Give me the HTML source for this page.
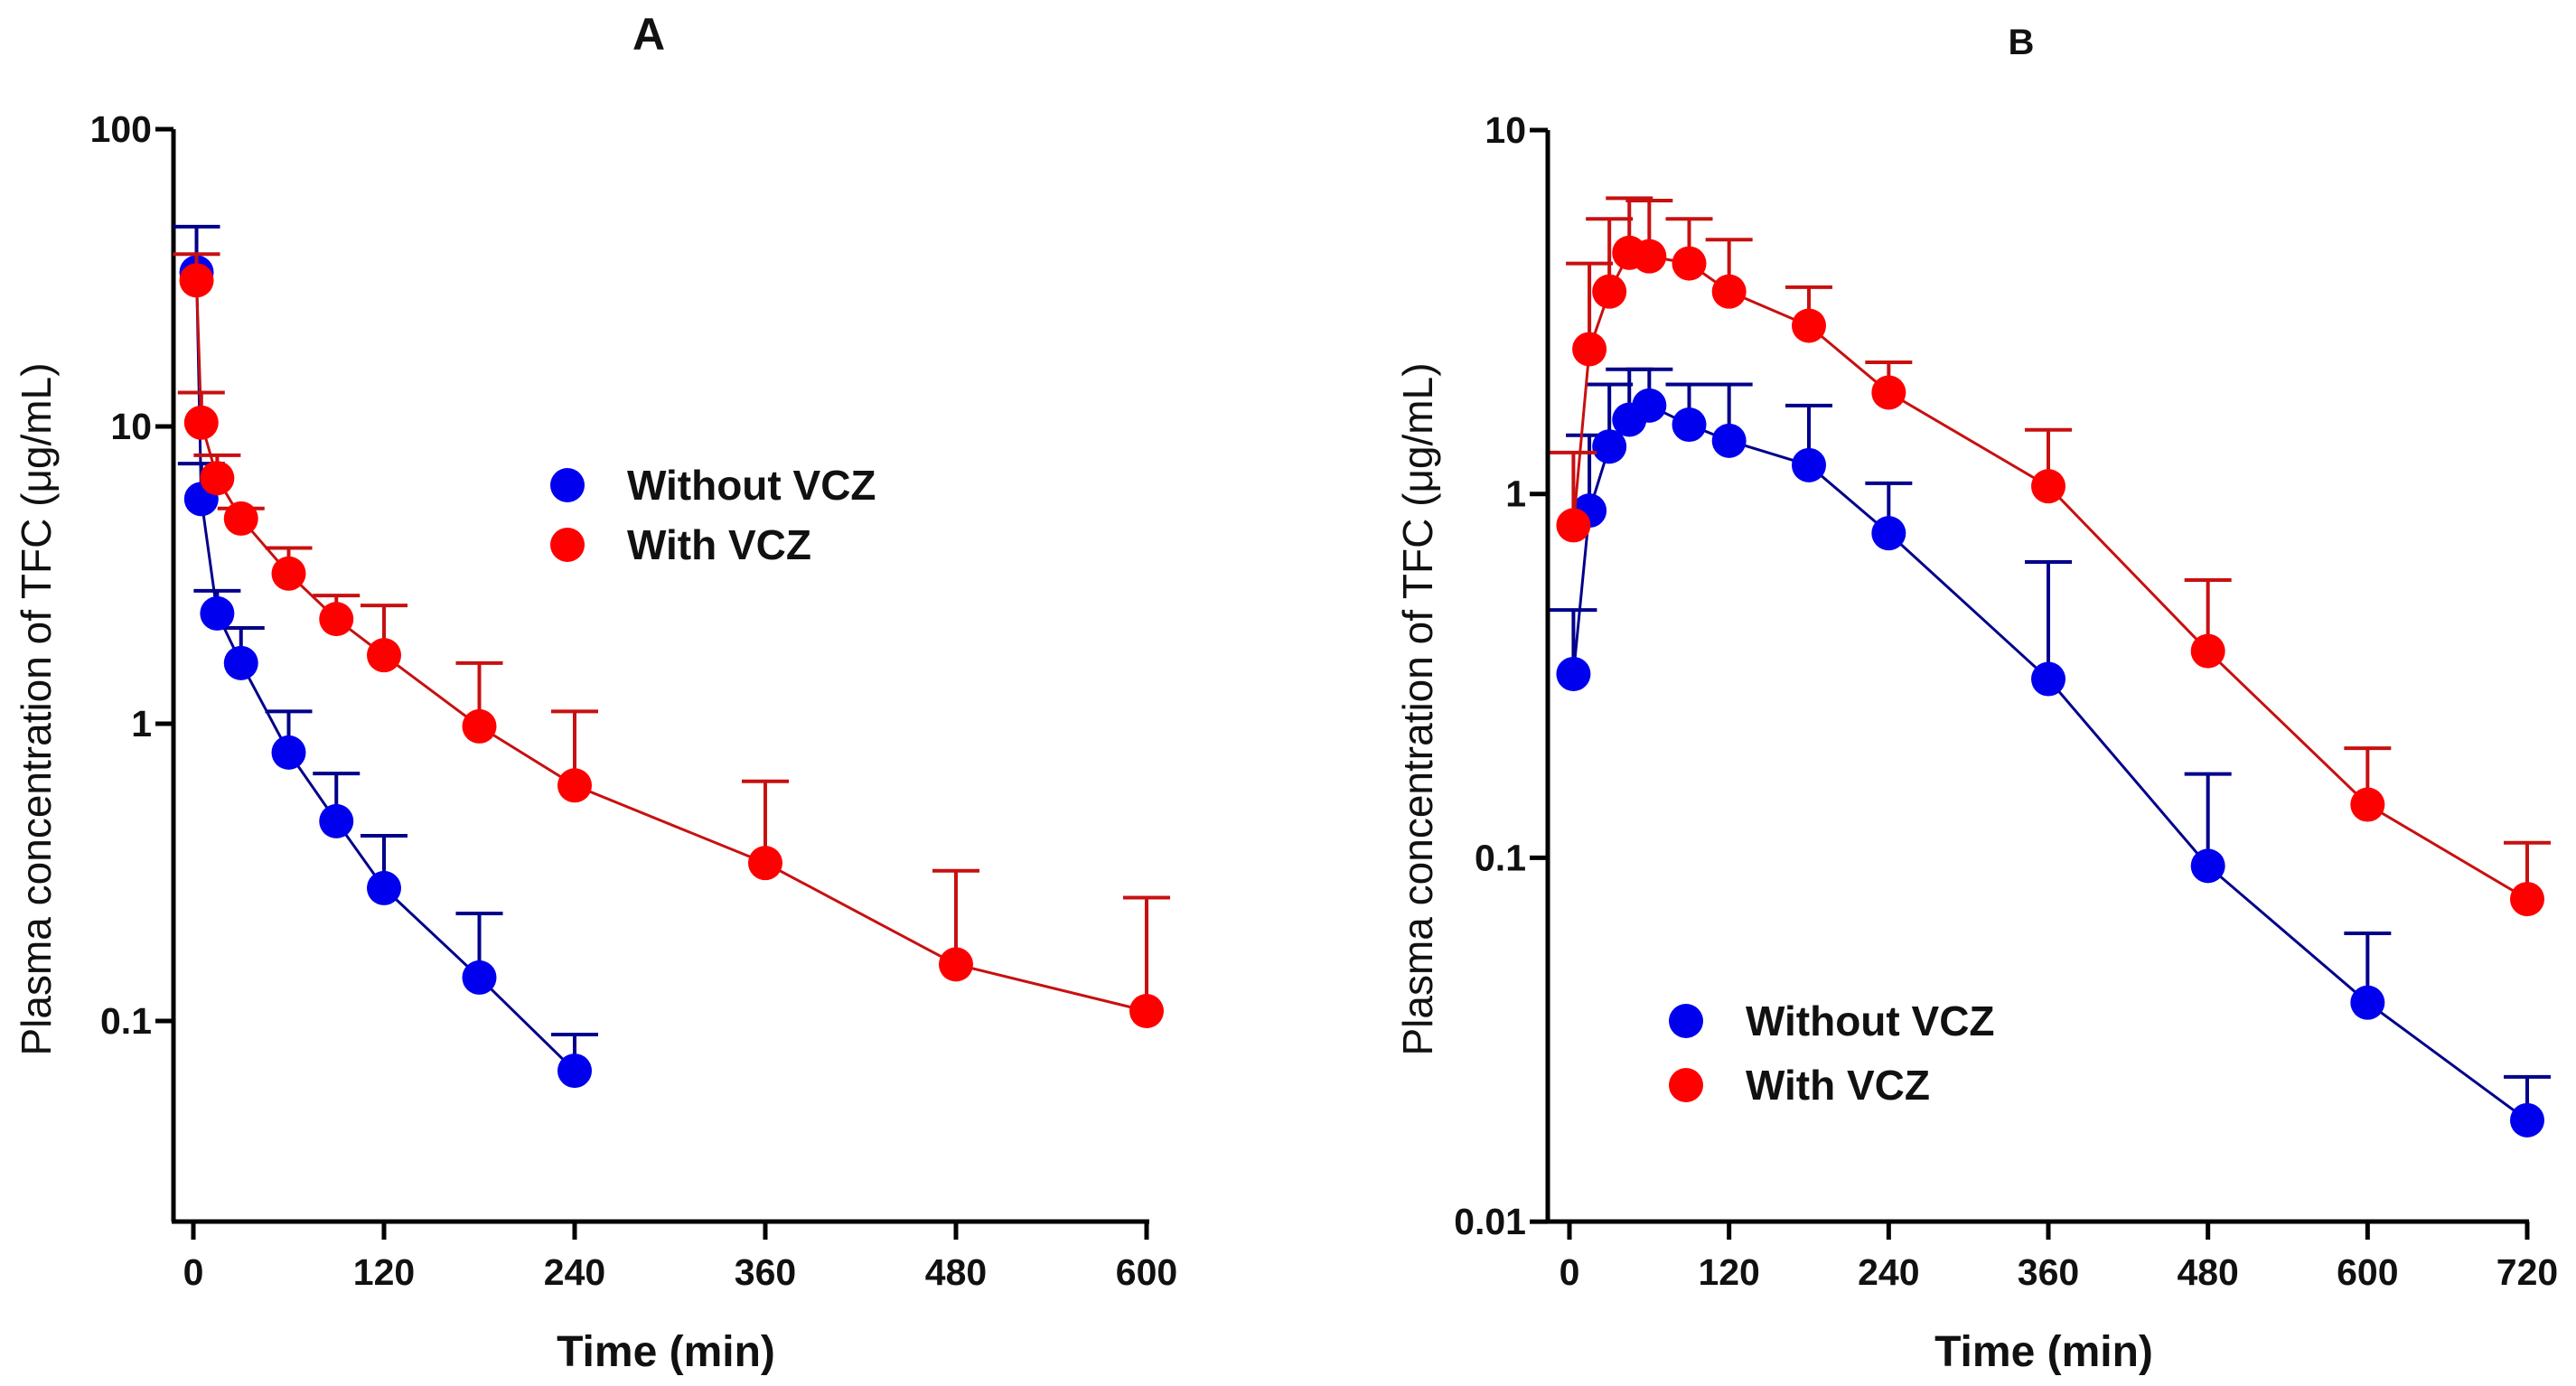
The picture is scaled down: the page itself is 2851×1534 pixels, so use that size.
<!DOCTYPE html>
<html><head><meta charset="utf-8"><style>
html,body{margin:0;padding:0;background:#fff;}
svg{display:block;font-family:"Liberation Sans",Arial,sans-serif;}
</style></head><body>
<svg id="chart" width="2851" height="1534" viewBox="0 0 2851 1534" xmlns="http://www.w3.org/2000/svg">
<rect width="2851" height="1534" fill="#fff"/>
</svg>
<script>
// Panel A data
const timesA = [2,5,15,30,60,90,120,180,240];
const blueA = [33,5.7,2.35,1.6,0.8,0.47,0.28,0.14,0.068];
const blueAErr = [47,7.5,2.8,2.1,1.1,0.68,0.42,0.23,0.09];
const timesARed = [2,5,15,30,60,90,120,180,240,360,480,600];
const redA = [31,10.3,6.7,4.9,3.2,2.25,1.7,0.98,0.62,0.34,0.155,0.108];
const redAErr = [38,13,8,5.3,3.9,2.7,2.5,1.6,1.1,0.64,0.32,0.26];
const xTicksA = [0,120,240,360,480,600];
const yTicksA = [100,10,1,0.1];
const yTickLabelsA = ["100","10","1","0.1"];
// Panel B data
const timesB = [3,15,30,45,60,90,120,180,240,360,480,600,720];
const blueB = [0.32,0.9,1.35,1.6,1.75,1.55,1.4,1.2,0.78,0.31,0.095,0.04,0.019];
const blueBErr = [0.48,1.45,2.0,2.2,2.2,2.0,2.0,1.75,1.07,0.65,0.17,0.062,0.025];
const redB = [0.82,2.5,3.6,4.6,4.5,4.3,3.6,2.9,1.9,1.05,0.37,0.14,0.077];
const redBErr = [1.3,4.3,5.7,6.5,6.4,5.7,5.0,3.7,2.3,1.5,0.58,0.2,0.11];
const xTicksB = [0,120,240,360,480,600,720];
const yTicksB = [10,1,0.1,0.01];
const yTickLabelsB = ["10","1","0.1","0.01"];

const NS="http://www.w3.org/2000/svg";
const svg=document.getElementById('chart');
function mk(tag,attrs,parent){const e=document.createElementNS(NS,tag);for(const k in attrs)e.setAttribute(k,attrs[k]);(parent||svg).appendChild(e);return e;}

function panel(cfg){
  const g=mk('g',{});
  
  
  const sx=t=>cfg.x0+t*cfg.xPer;
  const sy=v=>cfg.yTop+(Math.log10(cfg.yTopVal)-Math.log10(v))*cfg.dec;
  const ya=mk('line',{x1:cfg.axX,y1:cfg.yTop,x2:cfg.axX,y2:cfg.axY,stroke:'#000','stroke-width':5},g);
  
  
  const xa=mk('line',{x1:cfg.axX-2,y1:cfg.axY,x2:cfg.xEnd+2,y2:cfg.axY,stroke:'#000','stroke-width':5},g);
  
  
  cfg.xTicks.forEach(t=>{
    mk('line',{x1:sx(t),y1:cfg.axY,x2:sx(t),y2:cfg.axY+20,stroke:'#000','stroke-width':5},g);
    const tx=mk('text',{x:sx(t),y:cfg.axY+70,'text-anchor':'middle','font-size':41,'font-weight':'bold',fill:'#111'},g);
    tx.textContent=t;
    
    
  });
  cfg.yTicks.forEach((v,i)=>{
    mk('line',{x1:cfg.axX-20,y1:sy(v),x2:cfg.axX,y2:sy(v),stroke:'#000','stroke-width':5},g);
    const tx=mk('text',{x:cfg.axX-24,y:sy(v)+14,'text-anchor':'end','font-size':41,'font-weight':'bold',fill:'#111'},g);
    tx.textContent=cfg.yLabels[i];
    
    
  });
  cfg.series.forEach(s=>{
    const sg=mk('g',{},g);
    
    
    s.t.forEach((t,i)=>{
      const x=sx(t);
      mk('line',{x1:x,y1:sy(s.v[i]),x2:x,y2:sy(s.e[i]),stroke:s.dark,'stroke-width':4},sg);
      mk('line',{x1:x-26,y1:sy(s.e[i]),x2:x+26,y2:sy(s.e[i]),stroke:s.dark,'stroke-width':4},sg);
    });
    const pts=s.t.map((t,i)=>sx(t)+','+sy(s.v[i])).join(' ');
    mk('polyline',{points:pts,fill:'none',stroke:s.dark,'stroke-width':3},sg);
    s.t.forEach((t,i)=>{
      const c=mk('circle',{cx:sx(t),cy:sy(s.v[i]),r:19,fill:s.color},sg);
      
      
    });
  });
  cfg.legend.forEach(l=>{
    const c=mk('circle',{cx:l.x,cy:l.y,r:19,fill:l.color},g);
    
    
    const tx=mk('text',{x:l.x+66,y:l.y+16,'font-size':46,'font-weight':'bold',fill:'#111'},g);
    tx.textContent=l.text;
    
    
  });
  const xt=mk('text',{x:cfg.xTitleX,y:1512,'text-anchor':'middle','font-size':48,'font-weight':'bold',fill:'#111'},g);
  xt.textContent='Time (min)';
  
  
  const yt=mk('text',{x:0,y:0,'text-anchor':'middle','font-size':46,fill:'#111',transform:`translate(${cfg.yTitleX},${cfg.yTitleY}) rotate(-90)`},g);
  yt.textContent='Plasma concentration of TFC (μg/mL)';
  
  
  const pt=mk('text',{x:cfg.titleX,y:cfg.titleY,'text-anchor':'middle','font-size':cfg.titleSize,'font-weight':'bold',fill:'#111'},g);
  pt.textContent=cfg.title;
  
  
}

panel({name:'panel-a',x0:214,xPer:211/120,axX:192,axY:1352,xEnd:1270,yTop:143,yTopVal:100,dec:329,
  xTicks:xTicksA,yTicks:yTicksA,yLabels:yTickLabelsA,
  series:[{name:'series-without-vcz-a',t:timesA,v:blueA,e:blueAErr,color:'#0000ee',dark:'#00008b'},
          {name:'series-with-vcz-a',t:timesARed,v:redA,e:redAErr,color:'#ff0000',dark:'#c81010'}],
  legend:[{x:628,y:537,color:'#0000ee',text:'Without VCZ'},{x:628,y:603,color:'#ff0000',text:'With VCZ'}],
  xTitleX:737,yTitleX:56,yTitleY:785,title:'A',titleX:718,titleY:55,titleSize:50});

panel({name:'panel-b',x0:1737,xPer:1060/720,axX:1713,axY:1352,xEnd:2797,yTop:144,yTopVal:10,dec:402.7,
  xTicks:xTicksB,yTicks:yTicksB,yLabels:yTickLabelsB,
  series:[{name:'series-without-vcz-b',t:timesB,v:blueB,e:blueBErr,color:'#0000ee',dark:'#00008b'},
          {name:'series-with-vcz-b',t:timesB,v:redB,e:redBErr,color:'#ff0000',dark:'#c81010'}],
  legend:[{x:1866,y:1130,color:'#0000ee',text:'Without VCZ'},{x:1866,y:1201,color:'#ff0000',text:'With VCZ'}],
  xTitleX:2262,yTitleX:1585,yTitleY:785,title:'B',titleX:2237,titleY:60,titleSize:40});
</script>
</body></html>
